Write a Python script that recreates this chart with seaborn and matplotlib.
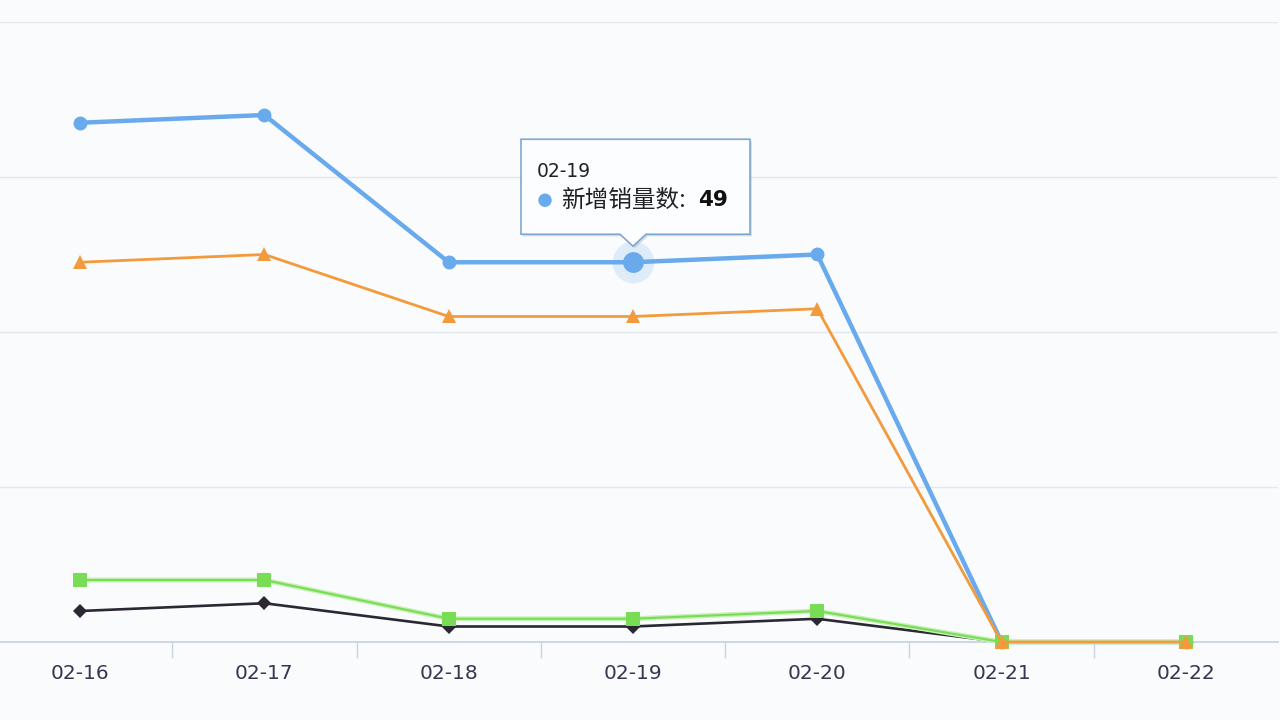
import pandas as pd
import numpy as np
import seaborn as sns
import matplotlib.pyplot as plt
from matplotlib.patches import Polygon, Circle

# data
dates = ['02-16', '02-17', '02-18', '02-19', '02-20', '02-21', '02-22']
blue_vals = [67, 68, 49, 49, 50, 0, 0]      # 新增销量数
orange_vals = [49, 50, 42, 42, 43, 0, 0]
green_vals = [8, 8, 3, 3, 4, 0, 0]
black_vals = [4, 5, 2, 2, 3, 0, 0]
hover_idx = 3
hover_label = '新增销量数'

sns.set_theme(style='white')
plt.rcParams['font.family'] = ['Noto Sans CJK SC', 'DejaVu Sans']

bg = '#f9fbfd'
fig = plt.figure(figsize=(12.8, 7.2), dpi=100, facecolor=bg)
ax = fig.add_axes([-12 / 1280, 78 / 720, 1290 / 1280, 620 / 720])
ax.set_facecolor(bg)

x = np.arange(len(dates))
df = pd.DataFrame({'x': x, 'blue': blue_vals, 'orange': orange_vals,
                   'green': green_vals, 'black': black_vals})

sns.lineplot(data=df, x='x', y='blue', ax=ax, color='#68aaec', linewidth=3.2,
             marker='o', markersize=10, markeredgewidth=0, zorder=3)
sns.lineplot(data=df, x='x', y='black', ax=ax, color='#2b2733', linewidth=1.9,
             marker='D', markersize=7.5, markeredgewidth=0, zorder=4)
sns.lineplot(data=df, x='x', y='green', ax=ax, color='#c6f0b4', linewidth=3.5,
             zorder=4.5)
sns.lineplot(data=df, x='x', y='green', ax=ax, color='#78dd55', linewidth=1.5,
             marker='s', markersize=10, markeredgewidth=0, zorder=5)
sns.lineplot(data=df, x='x', y='orange', ax=ax, color='#f29a3c', linewidth=2.0,
             marker='^', markersize=10, markeredgewidth=0, zorder=6)
for ln in ax.lines:
    ln.set_clip_on(False)

ax.set_xlim(-0.5, len(dates) - 0.5)
ax.set_ylim(0, 80)
ax.set_yticks([0, 20, 40, 60, 80])
ax.yaxis.grid(True, color='#e3e8ef', linewidth=1.0)
ax.set_yticklabels([])
ax.tick_params(axis='y', length=0)
ax.set_xticks(x)
ax.set_xticklabels(dates)
ax.set_xticks(x[:-1] + 0.5, minor=True)
ax.tick_params(axis='x', which='major', bottom=True, length=0, pad=16,
               labelsize=14.5, labelcolor='#3b3450')
ax.tick_params(axis='x', which='minor', bottom=True, length=11.5, width=1.0,
               color='#c9d3e1', direction='out')
for t in ax.get_xticklabels():
    t.set_fontfamily(['DejaVu Sans'])
ax.set_xlabel('')
ax.set_ylabel('')
for s in ['top', 'right', 'left']:
    ax.spines[s].set_visible(False)
ax.spines['bottom'].set_color('#c6d1e0')
ax.spines['bottom'].set_linewidth(1.2)
ax.spines['bottom'].set_zorder(2)
if ax.get_legend():
    ax.get_legend().remove()

# hovered point halo
hx, hy = x[hover_idx], blue_vals[hover_idx]
ax.plot([hx], [hy], 'o', color='#68aaec', markersize=30, alpha=0.18,
        markeredgewidth=0, zorder=7)
ax.plot([hx], [hy], 'o', color='#68aaec', markersize=15, markeredgewidth=0,
        zorder=8)

# tooltip, drawn in pixel coordinates relative to the hovered point
fig.canvas.draw()
px, py = ax.transData.transform((hx, hy))
over = fig.add_axes([0, 0, 1, 1], facecolor='none')
over.set_xlim(0, 1280)
over.set_ylim(0, 720)
over.axis('off')

L, R, T, B = px - 112, px + 117, py + 123, py + 28
tip = py + 16
pts = [(L, T), (R, T), (R, B), (px + 13, B), (px, tip), (px - 13, B), (L, B)]
shadow = Polygon([(a + 2, b - 2) for a, b in pts], closed=True,
                 facecolor='#9aa6b4', alpha=0.35, edgecolor='none', zorder=1)
box = Polygon(pts, closed=True, facecolor='#fbfdff', edgecolor='#7fa7d0',
              linewidth=1.2, zorder=2)
over.add_patch(shadow)
over.add_patch(box)
over.text(L + 16, T - 32, dates[hover_idx], fontsize=13.5, color='#222222',
          va='center', ha='left', family=['DejaVu Sans'], zorder=3)
over.add_patch(Circle((L + 24, T - 61), 6, color='#68aaec', zorder=3))
over.text(L + 40, T - 61, hover_label + ':', fontsize=17, color='#222222',
          va='center', ha='left', zorder=3)
over.text(L + 177, T - 61, str(blue_vals[hover_idx]), fontsize=15.5,
          color='#111111', va='center', ha='left', fontweight='bold',
          family=['DejaVu Sans'], zorder=3)

fig.savefig('out.png', dpi=100, facecolor=bg)
